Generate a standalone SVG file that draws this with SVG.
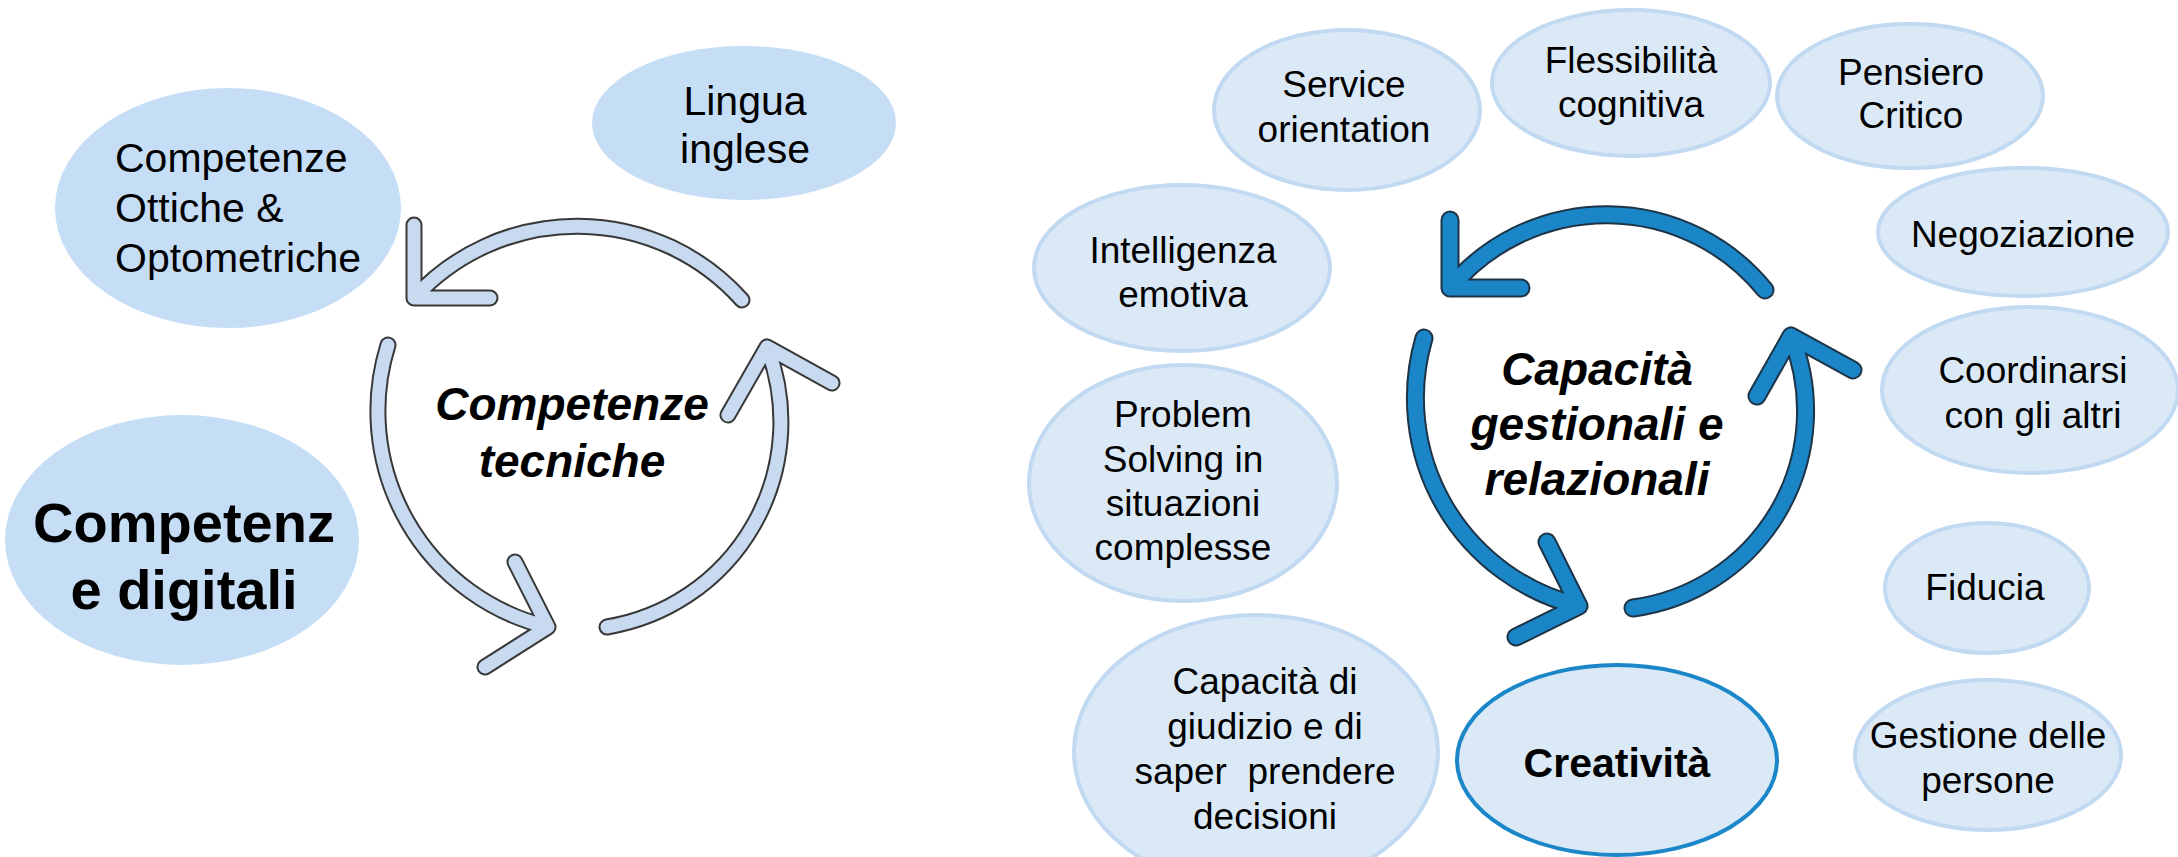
<svg xmlns="http://www.w3.org/2000/svg" width="2178" height="857" viewBox="0 0 2178 857">
<style>
.bg{fill:#ffffff}
.lnode{fill:#c5def5;stroke:none}
.rnode{fill:#dbe9f7;stroke:#c1d9f1;stroke-width:4}
.hnode{fill:#dbe9f7;stroke:#1b87c9;stroke-width:4}
text{font-family:"Liberation Sans",Arial,sans-serif;fill:#000}
.lt{font-size:41px}
.rt{font-size:37px;text-anchor:middle}
.mid{text-anchor:middle}
.big{font-size:56px;font-weight:bold;text-anchor:middle}
.ctr{font-size:46px;font-weight:bold;font-style:italic;text-anchor:middle}
.cre{font-size:41px;font-weight:bold;text-anchor:middle}
.lo{fill:none;stroke:#383838;stroke-width:17;stroke-linecap:round;stroke-linejoin:round}
.li{fill:none;stroke:#c8daf0;stroke-width:13;stroke-linecap:round;stroke-linejoin:round}
.ro{fill:none;stroke:#1d3447;stroke-width:19;stroke-linecap:round;stroke-linejoin:round}
.ri{fill:none;stroke:#1a86c8;stroke-width:15;stroke-linecap:round;stroke-linejoin:round}
</style>
<defs>
<path id="la1" d="M742,300 A221,221 0 0 0 414,298 M414,225 L414,298 L490,298"/>
<path id="la2" d="M388,345 A222,222 0 0 0 548,627 M515,562 L548,627 L485,667"/>
<path id="la3" d="M607,627 A208,208 0 0 0 767,347 M728,415 L767,347 L832,383"/>
<path id="ra1" d="M1765,290 A204,204 0 0 0 1450,288 M1450,220 L1450,288 L1521,288"/>
<path id="ra2" d="M1424,338 A214,214 0 0 0 1579,606 M1547,542 L1579,606 L1516,637"/>
<path id="ra3" d="M1633,608 A199,199 0 0 0 1791,336 M1757,396 L1791,336 L1853,370"/>
</defs>
<rect class="bg" x="0" y="0" width="2178" height="857"/>

<g id="node-ottiche">
<ellipse class="lnode" cx="228" cy="208" rx="173" ry="120"/>
<text class="lt" x="115" y="172">Competenze</text>
<text class="lt" x="115" y="222">Ottiche &amp;</text>
<text class="lt" x="115" y="272">Optometriche</text>
</g>
<g id="node-lingua">
<ellipse class="lnode" cx="744" cy="123" rx="152" ry="77"/>
<text class="lt mid" x="745" y="115">Lingua</text>
<text class="lt mid" x="745" y="163">inglese</text>
</g>
<g id="node-digitali">
<ellipse class="lnode" cx="182" cy="540" rx="177" ry="125"/>
<text class="big" x="184" y="542">Competenz</text>
<text class="big" x="184" y="609">e digitali</text>
</g>

<g id="connectors">
<g id="cycle-left">
<use href="#la1" class="lo"/>
<use href="#la2" class="lo"/>
<use href="#la3" class="lo"/>
<use href="#la1" class="li"/>
<use href="#la2" class="li"/>
<use href="#la3" class="li"/>
</g>
<g id="cycle-right">
<use href="#ra1" class="ro"/>
<use href="#ra2" class="ro"/>
<use href="#ra3" class="ro"/>
<use href="#ra1" class="ri"/>
<use href="#ra2" class="ri"/>
<use href="#ra3" class="ri"/>
</g>
</g>

<g id="center-left">
<text class="ctr" x="572" y="420">Competenze</text>
<text class="ctr" x="572" y="477">tecniche</text>
</g>
<g id="center-right">
<text class="ctr" x="1597" y="385">Capacità</text>
<text class="ctr" x="1597" y="440">gestionali e</text>
<text class="ctr" x="1597" y="495">relazionali</text>
</g>

<g id="node-service">
<ellipse class="rnode" cx="1347" cy="110" rx="133" ry="80"/>
<text class="rt" x="1344" y="97">Service</text>
<text class="rt" x="1344" y="142">orientation</text>
</g>
<g id="node-flessibilita">
<ellipse class="rnode" cx="1631" cy="83" rx="139" ry="73"/>
<text class="rt" x="1631" y="73">Flessibilità</text>
<text class="rt" x="1631" y="117">cognitiva</text>
</g>
<g id="node-pensiero">
<ellipse class="rnode" cx="1910" cy="96" rx="133" ry="72"/>
<text class="rt" x="1911" y="85">Pensiero</text>
<text class="rt" x="1911" y="128">Critico</text>
</g>
<g id="node-negoziazione">
<ellipse class="rnode" cx="2023" cy="232" rx="145" ry="64"/>
<text class="rt" x="2023" y="247">Negoziazione</text>
</g>
<g id="node-intelligenza">
<ellipse class="rnode" cx="1182" cy="268" rx="148" ry="83"/>
<text class="rt" x="1183" y="263">Intelligenza</text>
<text class="rt" x="1183" y="307">emotiva</text>
</g>
<g id="node-coordinarsi">
<ellipse class="rnode" cx="2030" cy="390" rx="148" ry="83"/>
<text class="rt" x="2033" y="383">Coordinarsi</text>
<text class="rt" x="2033" y="428">con gli altri</text>
</g>
<g id="node-problem">
<ellipse class="rnode" cx="1183" cy="483" rx="154" ry="118"/>
<text class="rt" x="1183" y="427">Problem</text>
<text class="rt" x="1183" y="472">Solving in</text>
<text class="rt" x="1183" y="516">situazioni</text>
<text class="rt" x="1183" y="560">complesse</text>
</g>
<g id="node-giudizio">
<ellipse class="rnode" cx="1256" cy="752" rx="182" ry="137"/>
<text class="rt" x="1265" y="694">Capacità di</text>
<text class="rt" x="1265" y="739">giudizio e di</text>
<text class="rt" x="1265" y="784" xml:space="preserve">saper  prendere</text>
<text class="rt" x="1265" y="829">decisioni</text>
</g>
<g id="node-creativita">
<ellipse class="hnode" cx="1617" cy="760" rx="160" ry="95"/>
<text class="cre" x="1617" y="777">Creatività</text>
</g>
<g id="node-fiducia">
<ellipse class="rnode" cx="1987" cy="588" rx="102" ry="65"/>
<text class="rt" x="1985" y="600">Fiducia</text>
</g>
<g id="node-gestione">
<ellipse class="rnode" cx="1988" cy="755" rx="133" ry="75"/>
<text class="rt" x="1988" y="748">Gestione delle</text>
<text class="rt" x="1988" y="793">persone</text>
</g>
</svg>
